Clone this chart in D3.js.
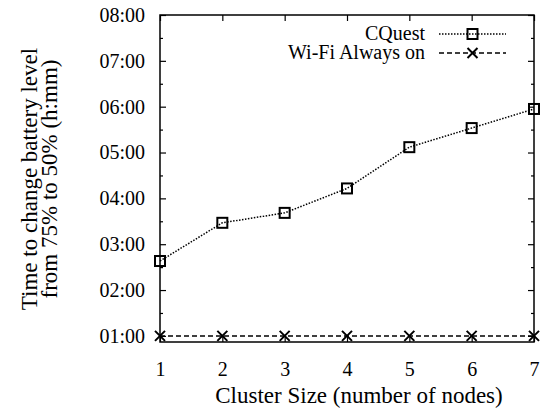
<!DOCTYPE html>
<html>
<head>
<meta charset="utf-8">
<script src="https://cdn.jsdelivr.net/npm/d3@7"></script>
<style>
  body { margin: 0; background: #fff; }
  text { font-family: "Liberation Serif", "Times New Roman", serif; fill: #000; }
</style>
</head>
<body>
<script>
// cluster sizes on x
const clusterSizes = [1, 2, 3, 4, 5, 6, 7];
// minutes needed to go from 75% to 50% battery
const cquestMinutes = [158, 208, 221, 253, 307, 332, 357];
const wifiMinutes = [60, 60, 60, 60, 60, 60, 60];
const hourTicks = [60, 120, 180, 240, 300, 360, 420, 480];
const halfHourTicks = [90, 150, 210, 270, 330, 390, 450];

const baseWidth = 546,
  baseHeight = 417;
const margin = { top: 15, right: 12, bottom: 75, left: 160 };
const width = baseWidth - margin.left - margin.right;
const height = baseHeight - margin.top - margin.bottom;

const x = d3.scaleLinear().domain([1, 7]).range([0, width]);
const y = d3.scaleLinear().domain([52, 480]).range([height, 0]);

const fmt = (m) => d3.format("02d")(m / 60) + ":00";

const svg = d3
  .select("body")
  .append("svg")
  .attr("width", baseWidth)
  .attr("height", baseHeight);

const chart = svg
  .append("g")
  .attr("transform", "translate(" + margin.left + "," + margin.top + ")");

function styleAxis(g) {
  g.select(".domain").remove();
  g.attr("font-family", null);
  g.selectAll("line").attr("stroke", "#000").attr("stroke-width", 1.2);
  g.selectAll("text").style("font-size", "20px").attr("fill", "#000");
}

// left axis with labels
chart
  .append("g")
  .call(d3.axisLeft(y).tickValues(hourTicks).tickFormat(fmt).tickSizeInner(-6).tickSizeOuter(0).tickPadding(15))
  .call(styleAxis);
chart
  .append("g")
  .call(d3.axisLeft(y).tickValues(halfHourTicks).tickFormat("").tickSizeInner(-3).tickSizeOuter(0))
  .call(styleAxis);
// right mirror
chart
  .append("g")
  .attr("transform", "translate(" + width + ",0)")
  .call(d3.axisRight(y).tickValues(hourTicks).tickFormat("").tickSizeInner(-6).tickSizeOuter(0))
  .call(styleAxis);
chart
  .append("g")
  .attr("transform", "translate(" + width + ",0)")
  .call(d3.axisRight(y).tickValues(halfHourTicks).tickFormat("").tickSizeInner(-3).tickSizeOuter(0))
  .call(styleAxis);

// bottom + top
chart
  .append("g")
  .attr("transform", "translate(0," + height + ")")
  .call(d3.axisBottom(x).tickValues(clusterSizes).tickFormat(d3.format("d")).tickSizeInner(-6).tickSizeOuter(0).tickPadding(20))
  .call(styleAxis);
chart
  .append("g")
  .call(d3.axisTop(x).tickValues(clusterSizes).tickFormat("").tickSizeInner(-6).tickSizeOuter(0))
  .call(styleAxis);

// frame
chart
  .append("rect")
  .attr("width", width)
  .attr("height", height)
  .attr("fill", "none")
  .attr("stroke", "#000")
  .attr("stroke-width", 1.5);

const line = d3
  .line()
  .x((d, i) => x(clusterSizes[i]))
  .y((d) => y(d));

chart
  .append("path")
  .datum(cquestMinutes)
  .attr("d", line)
  .attr("fill", "none")
  .attr("stroke", "#000")
  .attr("stroke-width", 1.5)
  .attr("stroke-dasharray", "1.5,1.5");

chart
  .append("path")
  .datum(wifiMinutes)
  .attr("d", line)
  .attr("fill", "none")
  .attr("stroke", "#000")
  .attr("stroke-width", 1.5)
  .attr("stroke-dasharray", "5,3");

function square(g, cx, cy) {
  g.append("rect")
    .attr("x", cx - 5)
    .attr("y", cy - 5)
    .attr("width", 10)
    .attr("height", 10)
    .attr("fill", "none")
    .attr("stroke", "#000")
    .attr("stroke-width", 2);
}
function cross(g, cx, cy) {
  g.append("path")
    .attr("d", `M${cx - 5},${cy - 5}L${cx + 5},${cy + 5}M${cx - 5},${cy + 5}L${cx + 5},${cy - 5}`)
    .attr("stroke", "#000")
    .attr("stroke-width", 2);
}

cquestMinutes.forEach((d, i) => square(chart, x(clusterSizes[i]), y(d)));
wifiMinutes.forEach((d, i) => cross(chart, x(clusterSizes[i]), y(d)));

// legend
const legendRows = [
  { name: "CQuest", dash: "1.5,1.5", mark: square },
  { name: "Wi-Fi Always on", dash: "5,3", mark: cross },
];
legendRows.forEach((r, i) => {
  const ly = 34 + i * 19;
  svg
    .append("text")
    .attr("x", 425)
    .attr("y", ly)
    .attr("dy", ".32em")
    .attr("text-anchor", "end")
    .style("font-size", "20px")
    .text(r.name);
  svg
    .append("line")
    .attr("x1", 439)
    .attr("x2", 506)
    .attr("y1", ly)
    .attr("y2", ly)
    .attr("stroke", "#000")
    .attr("stroke-width", 1.5)
    .attr("stroke-dasharray", r.dash);
  r.mark(svg, 472.5, ly);
});

// axis titles
svg
  .append("text")
  .attr("x", 359)
  .attr("y", 403)
  .attr("text-anchor", "middle")
  .style("font-size", "23px")
  .text("Cluster Size (number of nodes)");

const yTitle = svg
  .append("text")
  .attr("transform", "translate(37,179) rotate(-90)")
  .attr("text-anchor", "middle")
  .style("font-size", "23px");
yTitle.append("tspan").attr("x", 0).attr("y", 0).text("Time to change battery level");
yTitle.append("tspan").attr("x", 0).attr("y", 20).text("from 75% to 50% (h:mm)");
</script>
</body>
</html>
